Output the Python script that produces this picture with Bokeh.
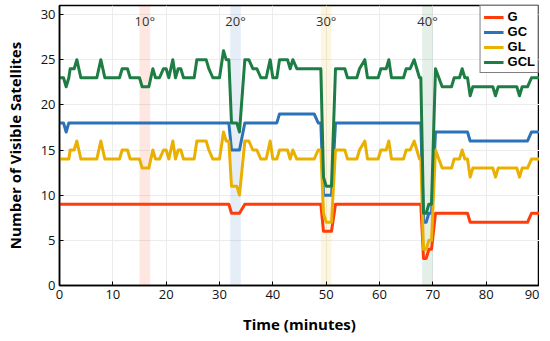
from bokeh.plotting import figure
from bokeh.models import ColumnDataSource, Legend, LegendItem, BoxAnnotation, FixedTicker, Range1d
from bokeh.core.properties import value
from bokeh.embed import file_html
from bokeh.resources import INLINE

minutes = [0, 0.75, 1.25, 1.75, 2.0, 2.75, 3.25, 4.0, 7.0, 7.75, 8.5, 11.25, 11.75, 12.75, 13.25,
           15.0, 15.5, 16.75, 17.5, 18.0, 18.75, 19.5, 20.0, 20.5, 21.25, 21.75, 22.25, 22.75, 23.25,
           25.25, 25.75, 27.5, 28.0, 28.75, 30.0, 30.75, 31.25, 31.75, 32.25, 33.25, 33.75, 34.75,
           35.5, 36.25, 37.0, 37.75, 38.75, 39.5, 40.0, 40.75, 41.25, 42.75, 43.25, 43.75, 44.5,
           47.75, 48.5, 49.0, 49.5, 50.0, 51.0, 51.75, 53.5, 54.0, 55.75, 56.25, 57.25, 57.75,
           59.75, 60.25, 61.25, 61.75, 62.25, 64.5, 65.0, 65.75, 66.5, 67.0, 67.5, 67.75, 68.25,
           68.75, 69.25, 69.75, 70.5, 71.75, 73.5, 74.0, 75.0, 75.5, 76.0, 76.5, 77.0, 77.5,
           81.25, 81.75, 82.25, 85.75, 86.25, 86.75, 87.75, 88.5, 90.0]

g = [9, 9, 9, 9, 9, 9, 9, 9, 9, 9, 9, 9, 9, 9, 9,
     9, 9, 9, 9, 9, 9, 9, 9, 9, 9, 9, 9, 9, 9,
     9, 9, 9, 9, 9, 9, 9, 9, 9, 8, 8, 8, 9,
     9, 9, 9, 9, 9, 9, 9, 9, 9, 9, 9, 9, 9,
     9, 9, 9, 6, 6, 6, 9, 9, 9, 9, 9, 9, 9,
     9, 9, 9, 9, 9, 9, 9, 9, 9, 9, 9, 9, 3,
     3, 4, 4, 8, 8, 8, 8, 8, 8, 8, 8, 7, 7,
     7, 7, 7, 7, 7, 7, 7, 8, 8]

gc = [18, 18, 17, 18, 18, 18, 18, 18, 18, 18, 18, 18, 18, 18, 18,
      18, 18, 18, 18, 18, 18, 18, 18, 18, 18, 18, 18, 18, 18,
      18, 18, 18, 18, 18, 18, 18, 18, 18, 15, 15, 15, 18,
      18, 18, 18, 18, 18, 18, 18, 18, 19, 19, 19, 19, 19,
      19, 18, 18, 10, 10, 10, 18, 18, 18, 18, 18, 18, 18,
      18, 18, 18, 18, 18, 18, 18, 18, 18, 18, 18, 18, 7,
      7, 8, 8, 17, 17, 17, 17, 17, 17, 17, 17, 16, 16,
      16, 16, 16, 16, 16, 16, 16, 17, 17]

gl = [14, 14, 14, 14, 15, 15, 16, 14, 14, 16, 14, 14, 15, 15, 14,
      14, 13, 13, 15, 14, 14, 15, 15, 14, 16, 14, 15, 15, 14,
      14, 16, 16, 15, 14, 14, 17, 16, 16, 11, 11, 10, 16,
      16, 15, 15, 14, 14, 16, 14, 14, 15, 15, 14, 15, 14,
      14, 15, 15, 8, 7, 7, 15, 15, 14, 14, 15, 16, 14,
      14, 15, 15, 16, 14, 14, 15, 15, 16, 15, 14, 14, 4,
      4, 5, 5, 15, 13, 13, 14, 14, 15, 14, 14, 12, 13,
      13, 12, 13, 13, 12, 13, 13, 14, 14]

gcl = [23, 23, 22, 23, 24, 24, 25, 23, 23, 25, 23, 23, 24, 24, 23,
       23, 22, 22, 24, 23, 23, 24, 24, 23, 25, 23, 24, 24, 23,
       23, 25, 25, 24, 23, 23, 26, 25, 25, 18, 18, 17, 25,
       25, 24, 24, 23, 23, 25, 23, 23, 25, 25, 24, 25, 24,
       24, 24, 24, 12, 11, 11, 24, 24, 23, 23, 24, 25, 23,
       23, 24, 24, 25, 23, 23, 24, 24, 25, 24, 23, 23, 8,
       8, 9, 9, 24, 22, 22, 23, 23, 24, 23, 23, 21, 22,
       22, 21, 22, 22, 21, 22, 22, 23, 23]

series_names = ["G", "GC", "GL", "GCL"]
series_colors = ["#FF3D0A", "#2B72B8", "#EAB000", "#1E7D44"]

band_labels = ["10°", "20°", "30°", "40°"]
band_start = [15, 32, 49, 68]
band_end = [17, 34, 51, 70]
band_label_y = [29.3, 29.3, 29.3, 29.3]

x_ticks = [0, 10, 20, 30, 40, 50, 60, 70, 80, 90]
y_ticks = [0, 5, 10, 15, 20, 25, 30]

FONT = "Open Sans"

p = figure(width=539, height=336, output_backend="svg", toolbar_location=None,
           x_range=Range1d(0, 90), y_range=Range1d(0, 31),
           min_border_left=59, min_border_right=0, min_border_top=5, min_border_bottom=51)

p.outline_line_color = "black"
p.outline_line_width = 1.5
p.outline_line_alpha = 1.0

for a in (p.xaxis[0], p.yaxis[0]):
    a.axis_line_color = "black"
    a.axis_line_width = 1.5
    a.major_tick_in = 4
    a.major_tick_out = 0
    a.minor_tick_line_color = None
    a.major_tick_line_color = "black"
    a.major_label_text_font = FONT
    a.major_label_text_font_size = "13px"
    a.major_label_text_color = "#111111"
    a.axis_label_text_font = FONT
    a.axis_label_text_font_size = "15px"
    a.axis_label_text_font_style = "bold"
    a.axis_label_text_color = "black"

p.xaxis.ticker = FixedTicker(ticks=x_ticks)
p.yaxis.ticker = FixedTicker(ticks=y_ticks)
p.xaxis.axis_label = "Time (minutes)"
p.yaxis.axis_label = "Number of Visible Satellites"
p.xaxis.major_label_standoff = 4
p.yaxis.major_label_standoff = 4
p.xaxis.axis_label_standoff = 12
p.yaxis.axis_label_standoff = 13

p.xgrid.grid_line_color = "#ececec"
p.ygrid.grid_line_color = "#ececec"
p.xgrid.grid_line_width = 1
p.ygrid.grid_line_width = 1

for s, e, c in zip(band_start, band_end, series_colors):
    p.add_layout(BoxAnnotation(left=s, right=e, fill_color=c, fill_alpha=0.12, line_color=None, level="underlay"))

band_src = ColumnDataSource(dict(x=[(s + e) / 2 for s, e in zip(band_start, band_end)],
                                 y=band_label_y, t=band_labels))
p.text(x="x", y="y", text="t", source=band_src, text_align="center", text_baseline="middle",
       text_font=value(FONT), text_font_size="13px", text_color="#333333")

src = ColumnDataSource(dict(t=minutes, G=g, GC=gc, GL=gl, GCL=gcl))
items = []
for name, col in zip(series_names, series_colors):
    r = p.line(x="t", y=name, source=src, line_color=col, line_width=3, line_join="round")
    items.append(LegendItem(label=name, renderers=[r]))

legend = Legend(items=items, location="top_right")
legend.label_text_font = "Liberation Sans"
legend.label_text_font_style = "bold"
legend.label_text_font_size = "13px"
legend.label_text_color = "black"
legend.label_height = 12
legend.glyph_height = 12
legend.glyph_width = 20
legend.label_standoff = 4
legend.spacing = 0
legend.padding = 3
legend.margin = 0
legend.border_line_color = "black"
legend.border_line_width = 1
legend.background_fill_color = "white"
legend.background_fill_alpha = 1.0
p.add_layout(legend)

open("out.html", "w").write(file_html(p, INLINE))
